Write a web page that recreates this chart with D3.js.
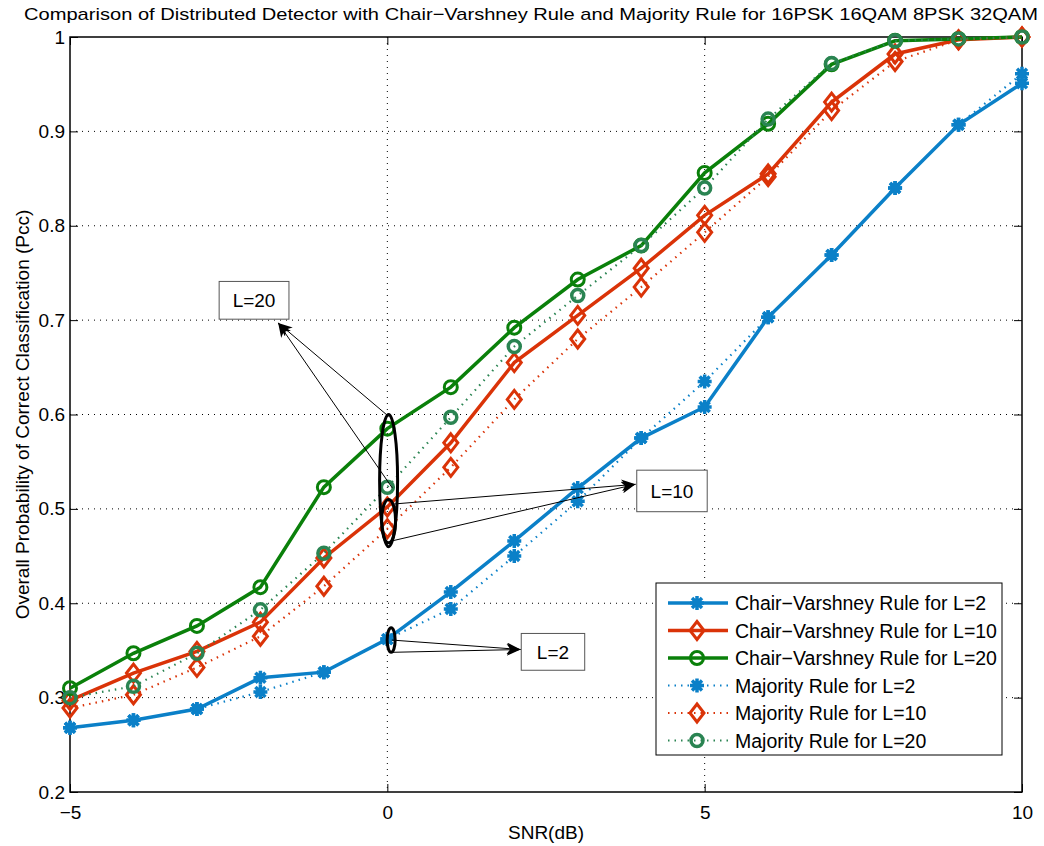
<!DOCTYPE html>
<html>
<head>
<meta charset="utf-8">
<script src="https://cdn.jsdelivr.net/npm/d3@7"></script>
<style>
body { margin: 0; background: #fff; }
svg text { font-family: "Liberation Sans", Arial, sans-serif; fill: #000; }
</style>
</head>
<body>
<div id="chart"></div>
<script>
// data
var snr = [-5, -4, -3, -2, -1, 0, 1, 2, 3, 4, 5, 6, 7, 8, 9, 10];
var cvL2 = [0.268, 0.276, 0.288, 0.321, 0.327, 0.362, 0.412, 0.466, 0.522, 0.575, 0.608, 0.703, 0.769, 0.840, 0.907, 0.951];
var cvL10 = [0.297, 0.326, 0.349, 0.380, 0.448, 0.502, 0.570, 0.655, 0.705, 0.755, 0.811, 0.855, 0.931, 0.982, 0.997, 1.0];
var cvL20 = [0.310, 0.347, 0.376, 0.417, 0.523, 0.585, 0.629, 0.692, 0.743, 0.779, 0.856, 0.908, 0.971, 0.996, 0.998, 1.0];
var mjL2 = [0.268, 0.276, 0.288, 0.306, 0.327, 0.362, 0.394, 0.450, 0.508, 0.575, 0.635, 0.703, 0.769, 0.840, 0.907, 0.961];
var mjL10 = [0.289, 0.303, 0.332, 0.365, 0.418, 0.479, 0.544, 0.616, 0.680, 0.735, 0.793, 0.852, 0.922, 0.974, 0.997, 1.0];
var mjL20 = [0.300, 0.312, 0.347, 0.393, 0.453, 0.523, 0.597, 0.672, 0.726, 0.779, 0.840, 0.913, 0.972, 0.996, 0.998, 1.0];

var xTicks = [-5, 0, 5, 10];
var yTicks = [0.2, 0.3, 0.4, 0.5, 0.6, 0.7, 0.8, 0.9, 1];

(function() {
var width = 1044,
  height = 846;

var series = [
  { name: "Chair\u2212Varshney Rule for L=2", values: cvL2, color: "#0b80c8", dash: null, marker: "star" },
  { name: "Chair\u2212Varshney Rule for L=10", values: cvL10, color: "#da3308", dash: null, marker: "diamond" },
  { name: "Chair\u2212Varshney Rule for L=20", values: cvL20, color: "#0a800a", dash: null, marker: "circle" },
  { name: "Majority Rule for L=2", values: mjL2, color: "#0b80c8", dash: "1.5,5", marker: "star" },
  { name: "Majority Rule for L=10", values: mjL10, color: "#da3308", dash: "1.5,5", marker: "diamond" },
  { name: "Majority Rule for L=20", values: mjL20, color: "#2a8452", dash: "1.5,5", marker: "circle2" }
];

var svg = d3.select("#chart").append("svg")
  .attr("width", width)
  .attr("height", height);

var pLeft = 70, pRight = 1022, pTop = 37, pBottom = 792;

var x = d3.scaleLinear().domain([-5, 10]).range([pLeft, pRight]);
var y = d3.scaleLinear().domain([0.2, 1]).range([pBottom, pTop]);

// grid
svg.append("g").selectAll("line")
  .data(yTicks.slice(1, -1))
  .enter().append("line")
  .attr("x1", pLeft).attr("x2", pRight)
  .attr("y1", function(d) { return y(d); })
  .attr("y2", function(d) { return y(d); })
  .attr("stroke", "#000").attr("stroke-width", 1)
  .attr("stroke-dasharray", "1,5");
svg.append("g").selectAll("line")
  .data(xTicks.slice(1, -1))
  .enter().append("line")
  .attr("y1", pTop).attr("y2", pBottom)
  .attr("x1", function(d) { return x(d); })
  .attr("x2", function(d) { return x(d); })
  .attr("stroke", "#000").attr("stroke-width", 1)
  .attr("stroke-dasharray", "1,5");

// axes with inward ticks
var fmtX = function(d) { return d < 0 ? "\u2212" + Math.abs(d) : d; };
var fmtY = function(d) { return d === 1 ? "1" : d3.format(".1f")(d); };

var xAxis = svg.append("g").attr("transform", "translate(0," + pBottom + ")")
  .call(d3.axisBottom(x).tickValues(xTicks).tickSize(-8).tickPadding(14).tickFormat(fmtX));
var xTop = svg.append("g").attr("transform", "translate(0," + pTop + ")")
  .call(d3.axisTop(x).tickValues(xTicks).tickSize(-8).tickFormat(""));
var yAxis = svg.append("g").attr("transform", "translate(" + pLeft + ",0)")
  .call(d3.axisLeft(y).tickValues(yTicks).tickSize(-8).tickPadding(5).tickFormat(fmtY));
var yRight = svg.append("g").attr("transform", "translate(" + pRight + ",0)")
  .call(d3.axisRight(y).tickValues(yTicks).tickSize(-8).tickFormat(""));

[xAxis, xTop, yAxis, yRight].forEach(function(a) {
  a.select(".domain").remove();
  a.selectAll("line").attr("stroke", "#000");
  a.selectAll("text").style("font-size", "19px").attr("fill", "#000");
});

svg.append("rect")
  .attr("x", pLeft).attr("y", pTop)
  .attr("width", pRight - pLeft).attr("height", pBottom - pTop)
  .attr("fill", "none").attr("stroke", "#000").attr("stroke-width", 1.5);

// markers
function drawMarker(g, type, color) {
  if (type === "star") {
    g.append("path")
      .attr("d", "M-7,0L7,0M0,-7L0,7M-5,-5L5,5M-5,5L5,-5")
      .attr("stroke", color).attr("stroke-width", 3.5).attr("fill", "none");
    g.append("circle").attr("r", 4).attr("fill", color);
  } else if (type === "diamond") {
    g.append("path")
      .attr("d", "M0,-9L7,0L0,9L-7,0Z")
      .attr("stroke", color).attr("stroke-width", 3).attr("fill", "none");
  } else if (type === "circle") {
    g.append("circle").attr("r", 6.5)
      .attr("stroke", color).attr("stroke-width", 3).attr("fill", "none");
  } else {
    g.append("circle").attr("r", 6)
      .attr("stroke", color).attr("stroke-width", 3.5).attr("fill", "none");
  }
}

var line = d3.line()
  .x(function(d) { return x(d[0]); })
  .y(function(d) { return y(d[1]); });

series.forEach(function(s) {
  var pts = snr.map(function(v, i) { return [v, s.values[i]]; });
  svg.append("path")
    .datum(pts)
    .attr("d", line)
    .attr("fill", "none")
    .attr("stroke", s.color)
    .attr("stroke-width", s.dash ? 2.2 : 3.5)
    .attr("stroke-dasharray", s.dash);
  var mk = svg.append("g").selectAll("g")
    .data(pts)
    .enter().append("g")
    .attr("transform", function(d) { return "translate(" + x(d[0]) + "," + y(d[1]) + ")"; });
  mk.each(function() { drawMarker(d3.select(this), s.marker, s.color); });
});

// annotations
var ann = svg.append("g");
ann.append("defs").append("marker")
  .attr("id", "arrow")
  .attr("viewBox", "0 -6 14 12")
  .attr("refX", 14).attr("refY", 0)
  .attr("markerWidth", 14).attr("markerHeight", 12)
  .attr("markerUnits", "userSpaceOnUse")
  .attr("orient", "auto")
  .append("path").attr("d", "M0,-6L14,0L0,6L4,0Z").attr("fill", "#000");

function ellipse(cx, cyLo, cyHi, rx) {
  ann.append("ellipse")
    .attr("cx", x(cx)).attr("cy", (y(cyLo) + y(cyHi)) / 2)
    .attr("rx", rx).attr("ry", (y(cyLo) - y(cyHi)) / 2)
    .attr("fill", "none").attr("stroke", "#000").attr("stroke-width", 3);
}
function arrow(x1, y1, x2, y2) {
  ann.append("line")
    .attr("x1", x(x1)).attr("y1", y(y1))
    .attr("x2", x(x2)).attr("y2", y(y2))
    .attr("stroke", "#000").attr("stroke-width", 1)
    .attr("marker-end", "url(#arrow)");
}
function label(x0, y0, x1, y1, txt) {
  ann.append("rect")
    .attr("x", x(x0)).attr("y", y(y0))
    .attr("width", x(x1) - x(x0)).attr("height", y(y1) - y(y0))
    .attr("fill", "#fff").attr("stroke", "#555").attr("stroke-width", 1);
  ann.append("text")
    .attr("x", (x(x0) + x(x1)) / 2).attr("y", (y(y0) + y(y1)) / 2 + 7)
    .attr("text-anchor", "middle")
    .style("font-size", "19px")
    .text(txt);
}

ellipse(0.02, 0.46, 0.60, 9);
ellipse(0.02, 0.464, 0.51, 7);
ellipse(0.06, 0.348, 0.374, 4);

arrow(0.02, 0.598, -1.72, 0.697);
arrow(0.08, 0.522, -1.72, 0.697);
arrow(0.07, 0.505, 3.91, 0.526);
arrow(0.07, 0.466, 3.91, 0.526);
arrow(0.07, 0.361, 2.10, 0.351);
arrow(0.07, 0.348, 2.10, 0.351);

label(-2.65, 0.741, -1.55, 0.701, "L=20");
label(3.93, 0.541, 5.04, 0.497, "L=10");
label(2.11, 0.368, 3.11, 0.329, "L=2");

// legend
var lg = svg.append("g").attr("transform", "translate(656,583)");
lg.append("rect").attr("width", 346).attr("height", 172)
  .attr("fill", "#fff").attr("stroke", "#000").attr("stroke-width", 1);
series.forEach(function(s, i) {
  var row = lg.append("g").attr("transform", "translate(0," + (20 + i * 27.5) + ")");
  row.append("line").attr("x1", 12).attr("x2", 72)
    .attr("stroke", s.color)
    .attr("stroke-width", s.dash ? 2.2 : 3.5)
    .attr("stroke-dasharray", s.dash);
  drawMarker(row.append("g").attr("transform", "translate(41,0)"), s.marker, s.color);
  row.append("text").attr("x", 79).attr("y", 7)
    .style("font-size", "19.5px").text(s.name);
});

// titles
svg.append("text")
  .attr("x", 531).attr("y", 20)
  .attr("text-anchor", "middle")
  .attr("textLength", 1014).attr("lengthAdjust", "spacingAndGlyphs")
  .style("font-size", "17px")
  .text("Comparison of Distributed Detector with Chair\u2212Varshney Rule and Majority Rule for 16PSK 16QAM 8PSK 32QAM");

svg.append("text")
  .attr("x", (pLeft + pRight) / 2).attr("y", 839)
  .attr("text-anchor", "middle")
  .style("font-size", "19px")
  .text("SNR(dB)");

svg.append("text")
  .attr("transform", "translate(29," + ((pTop + pBottom) / 2) + ") rotate(-90)")
  .attr("text-anchor", "middle")
  .style("font-size", "19px")
  .text("Overall Probability of Correct Classification (Pcc)");
})();
</script>
</body>
</html>
